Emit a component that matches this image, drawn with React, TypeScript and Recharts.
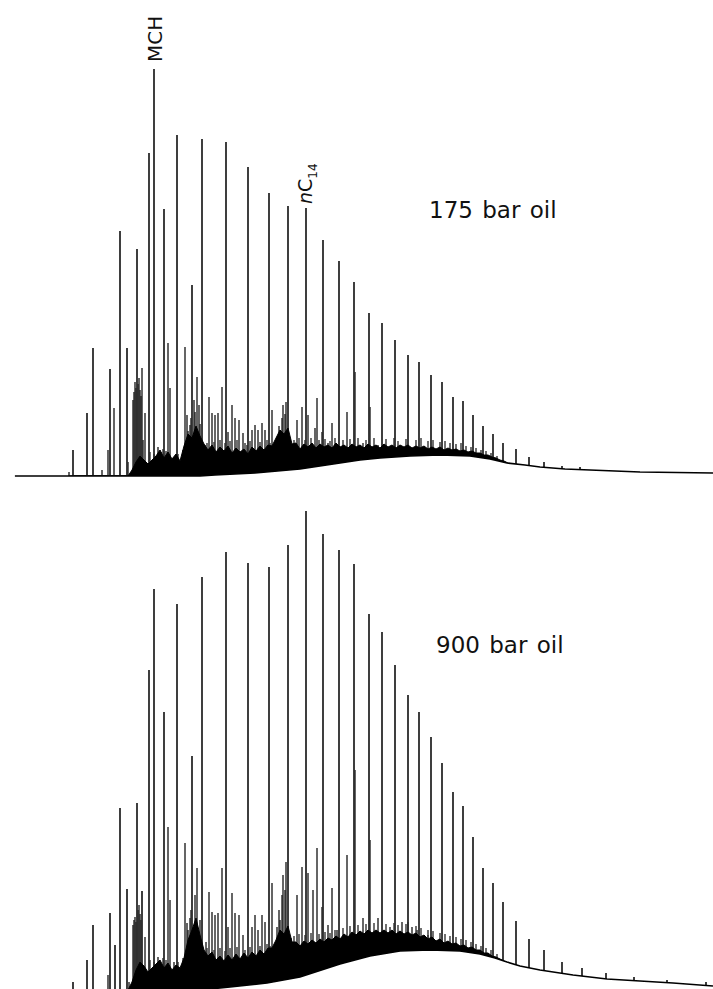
import React from 'react';
import { ComposedChart, Line, Area, XAxis, YAxis, ReferenceDot } from 'recharts';

// ---------- 175 bar oil (upper trace) ----------
const mainRt175 = [73, 87, 93, 110, 120, 127, 137, 149, 154, 164, 177, 192, 202, 226, 248, 269, 288, 306, 323, 339, 354, 369, 382, 395, 408, 419, 431, 442, 453, 463, 473, 483, 493, 503, 516, 529, 544, 562, 580];
const mainH175 = [26, 63, 128, 107, 245, 128, 227, 323, 407, 267, 341, 191, 337, 334, 309, 283, 270, 268, 236, 215, 194, 163, 153, 136, 121, 114, 101, 94, 79, 75, 61, 50, 42, 33, 27, 19, 14, 10, 9];

const minorRt175 = [69, 102, 108, 114, 128, 133, 134, 135, 136, 138, 139, 140, 141, 142, 143, 145, 158, 161, 168, 170, 174, 180, 185, 187, 188, 190, 191, 194, 195, 197, 199, 200, 205, 209, 212, 215, 218, 222, 228, 232, 235, 239, 243, 247, 252, 255, 258, 262, 265, 272, 277, 279, 280, 282, 283, 285, 286, 291, 297, 302, 308, 315, 317, 322, 328, 332, 337, 347, 355, 363, 370, 378, 390, 402, 412, 425, 436, 447, 458, 468, 478, 488];
const minorH175 = [4, 6, 26, 68, 14, 76, 84, 94, 88, 92, 98, 86, 80, 108, 36, 63, 29, 24, 133, 88, 19, 11, 129, 61, 45, 51, 58, 76, 64, 99, 71, 52, 31, 79, 63, 61, 63, 89, 44, 71, 58, 56, 43, 31, 46, 51, 46, 53, 46, 66, 39, 50, 43, 58, 71, 62, 74, 29, 56, 69, 61, 48, 78, 44, 33, 53, 31, 64, 104, 33, 69, 31, 28, 29, 26, 26, 25, 24, 22, 21, 20, 18];

const hairRt = [150, 154, 163, 166, 178, 183, 207, 214, 220, 225, 230, 237, 245, 250, 260, 267, 270, 294, 299, 305, 311, 319, 325, 330, 335, 343, 350, 358, 366, 374, 386, 394, 398, 406, 416, 421, 428, 433, 440, 445, 450, 456, 461, 466, 471, 476, 481, 486, 491, 497];
const hairH175 = [24, 22, 27, 25, 22, 26, 33, 34, 36, 33, 35, 36, 33, 35, 34, 36, 33, 36, 38, 36, 38, 36, 37, 35, 38, 36, 37, 38, 36, 38, 37, 38, 35, 37, 36, 38, 35, 36, 34, 35, 33, 32, 33, 30, 29, 28, 26, 25, 23, 20];

const noiseX = [128, 132, 136, 140, 144, 148, 152, 156, 160, 164, 168, 172, 176, 180, 184, 188, 192, 196, 200, 204, 208, 212, 216, 220, 224, 228, 232, 236, 240, 244, 248, 252, 256, 260, 264, 268, 272, 276, 280, 284, 288, 292, 296, 300, 304, 308, 312, 316, 320, 324, 328, 332, 336, 340, 344, 348, 352, 356, 360, 364, 368, 372, 376, 380, 384, 388, 392, 396, 400, 404, 408, 412, 416, 420, 424, 428, 432, 436, 440, 444, 448, 452, 456, 460, 464, 468, 472, 476, 480, 484, 488, 492, 496, 500, 504, 508, 512];
const noiseTop175 = [0, 6, 14, 20, 16, 12, 16, 20, 26, 18, 24, 17, 22, 15, 30, 42, 38, 50, 40, 32, 26, 31, 24, 29, 25, 30, 23, 28, 24, 27, 22, 29, 25, 30, 26, 31, 30, 38, 46, 42, 48, 32, 33, 27, 32, 29, 33, 28, 32, 29, 31, 28, 33, 29, 31, 28, 32, 29, 31, 28, 32, 29, 31, 28, 32, 29, 31, 28, 31, 29, 31, 28, 30, 28, 30, 27, 29, 27, 29, 26, 28, 26, 27, 25, 26, 24, 25, 23, 23, 21, 21, 19, 18, 16, 15, 13, 12];

const humpX175 = [10, 200, 215, 255, 300, 340, 360, 380, 410, 440, 470, 490, 507, 525, 540, 565, 590, 640, 713];
const humpY175 = [0, 0, 1, 3, 7, 13, 16, 18, 20, 21, 20, 17, 13, 11, 9, 7, 6, 4, 3];

// ---------- 900 bar oil (lower trace) ----------
const mainRt900 = [73, 87, 93, 110, 115, 120, 127, 137, 142, 149, 154, 164, 177, 192, 202, 226, 248, 269, 288, 306, 323, 339, 354, 369, 382, 395, 408, 419, 431, 442, 453, 463, 473, 483, 493, 503, 516, 529, 544, 562, 582, 606, 634, 667, 706];
const mainH900 = [8, 30, 65, 77, 45, 182, 101, 187, 99, 320, 401, 278, 386, 234, 413, 438, 427, 423, 445, 479, 456, 440, 426, 376, 358, 325, 295, 278, 253, 227, 198, 184, 153, 122, 107, 88, 69, 51, 40, 28, 22, 17, 13, 10, 8];

const minorRt900 = [108, 129, 133, 134, 135, 136, 138, 139, 140, 141, 145, 158, 168, 170, 174, 180, 185, 187, 188, 190, 191, 195, 197, 200, 206, 209, 212, 215, 218, 222, 228, 232, 235, 239, 243, 252, 255, 258, 262, 265, 272, 277, 279, 280, 282, 283, 285, 286, 291, 297, 302, 308, 313, 317, 322, 328, 332, 337, 347, 355, 363, 370, 378, 390, 402, 408, 412, 417, 428, 438, 448, 458, 468, 478, 488];
const minorH900 = [15, 8, 65, 70, 73, 68, 80, 85, 76, 70, 53, 33, 163, 90, 28, 7, 147, 67, 60, 72, 80, 95, 122, 70, 48, 98, 78, 75, 77, 122, 63, 97, 77, 75, 55, 63, 75, 60, 75, 68, 107, 63, 80, 70, 95, 115, 100, 128, 52, 95, 123, 117, 100, 142, 83, 65, 102, 60, 135, 220, 72, 150, 72, 63, 68, 68, 63, 60, 55, 50, 48, 45, 42, 40, 37];

const hairH900 = [30, 28, 32, 30, 28, 32, 42, 40, 42, 39, 42, 43, 40, 43, 44, 46, 44, 54, 56, 55, 57, 56, 58, 57, 60, 62, 64, 65, 66, 67, 66, 67, 65, 66, 64, 62, 60, 59, 57, 56, 54, 53, 51, 50, 48, 46, 44, 42, 40, 36];

const noiseTop900 = [0, 8, 20, 28, 24, 18, 22, 26, 30, 22, 27, 20, 25, 22, 32, 50, 60, 72, 55, 40, 34, 38, 30, 34, 29, 35, 30, 36, 31, 37, 32, 38, 34, 40, 36, 42, 42, 50, 60, 56, 64, 48, 48, 44, 49, 46, 50, 47, 51, 48, 52, 50, 54, 51, 56, 53, 58, 55, 59, 56, 60, 57, 60, 57, 60, 57, 60, 56, 59, 56, 58, 55, 57, 53, 55, 51, 53, 49, 51, 47, 49, 46, 47, 44, 45, 42, 43, 40, 40, 37, 37, 34, 33, 31, 29, 27, 25];

const humpX900 = [10, 200, 230, 267, 300, 340, 370, 400, 430, 460, 480, 495, 507, 520, 540, 573, 607, 640, 673, 713];
const humpY900 = [0, 0, 3, 7, 13, 26, 34, 39, 40, 39, 36, 32, 28, 24, 20, 15, 11, 9, 7, 4];

const panelTitles = ['175 bar oil', '900 bar oil'];
const peakNames = ['MCH', 'C', '14'];

// ---------- helpers ----------
const spikes = (rt: number[], h: number[]) =>
  rt.flatMap((x, i) => [{ x, y: 0 }, { x, y: h[i] }, { x: x + 0.01, y: 0 }]);
const pts = (xs: number[], ys: number[]) => xs.map((x, i) => ({ x, y: ys[i] }));

const FONT = '"DejaVu Sans", Verdana, sans-serif';
const W = 713;

type PanelProps = {
  height: number;
  yDomain: [number, number];
  mainRt: number[];
  mainH: number[];
  minorRt: number[];
  minorH: number[];
  hairH: number[];
  noiseTop: number[];
  humpX: number[];
  humpY: number[];
  title: string;
  titleX: number;
  titleY: number;
  annotate?: boolean;
};

function Panel(p: PanelProps) {
  const hump = pts(p.humpX, p.humpY);
  const noise = pts(noiseX, p.noiseTop);
  const margin = { top: 0, right: 0, bottom: 0, left: 0 };
  return (
    <div style={{ position: 'relative', width: W, height: p.height }}>
      {/* layer 1: the resolved peaks */}
      <div style={{ position: 'absolute', left: 0, top: 0 }}>
        <ComposedChart width={W} height={p.height} margin={margin}>
          <XAxis type="number" dataKey="x" domain={[0, W]} hide allowDataOverflow />
          <YAxis type="number" domain={p.yDomain} hide allowDataOverflow />
          <Line data={spikes(hairRt, p.hairH)} dataKey="y" type="linear" stroke="#111" strokeWidth={1.2} dot={false} activeDot={false} isAnimationActive={false} />
          <Line data={spikes(p.minorRt, p.minorH)} dataKey="y" type="linear" stroke="#333" strokeWidth={1.5} dot={false} activeDot={false} isAnimationActive={false} />
          <Line data={spikes(p.mainRt, p.mainH)} dataKey="y" type="linear" stroke="#2b2b2b" strokeWidth={1.8} dot={false} activeDot={false} isAnimationActive={false} />
        </ComposedChart>
      </div>
      {/* layer 2: unresolved hump, baseline and labels */}
      <div style={{ position: 'absolute', left: 0, top: 0 }}>
        <ComposedChart width={W} height={p.height} margin={margin}>
          <XAxis type="number" dataKey="x" domain={[0, W]} hide allowDataOverflow />
          <YAxis type="number" domain={p.yDomain} hide allowDataOverflow />
          <Area data={noise} dataKey="y" type="linear" fill="#000" fillOpacity={1} stroke="#000" strokeWidth={1} isAnimationActive={false} />
          <Area data={hump} dataKey="y" type="linear" baseValue={p.yDomain[0]} fill="#fff" fillOpacity={1} stroke="none" isAnimationActive={false} />
          <Line data={hump} dataKey="y" type="linear" stroke="#000" strokeWidth={1.6} dot={false} activeDot={false} isAnimationActive={false} />
          <ReferenceDot
            x={p.titleX}
            y={p.titleY}
            r={0}
            ifOverflow="visible"
            shape={(s: any) => (
              <text x={s.cx} y={s.cy} fontFamily={FONT} fontSize={23} wordSpacing={2} fill="#111">
                {p.title}
              </text>
            )}
          />
          {p.annotate && (
            <ReferenceDot
              x={p.mainRt[8]}
              y={p.mainH[8]}
              r={0}
              ifOverflow="visible"
              shape={(s: any) => (
                <text x={s.cx + 8} y={s.cy - 7} transform={`rotate(-90 ${s.cx + 8} ${s.cy - 7})`} fontFamily={FONT} fontSize={20} fill="#111">
                  {peakNames[0]}
                </text>
              )}
            />
          )}
          {p.annotate && (
            <ReferenceDot
              x={p.mainRt[17]}
              y={p.mainH[17]}
              r={0}
              ifOverflow="visible"
              shape={(s: any) => (
                <text x={s.cx + 6} y={s.cy - 4} transform={`rotate(-90 ${s.cx + 6} ${s.cy - 4})`} fontFamily={FONT} fontSize={19} fill="#111">
                  <tspan fontStyle="italic">n</tspan>
                  <tspan>{peakNames[1]}</tspan>
                  <tspan fontSize={12} dy={5}>{peakNames[2]}</tspan>
                </text>
              )}
            />
          )}
        </ComposedChart>
      </div>
    </div>
  );
}

export default function App() {
  return (
    <div style={{ position: 'absolute', left: 0, top: 0, width: W, height: 989, overflow: 'hidden', background: '#fff' }}>
      <div style={{ position: 'absolute', left: 0, top: 0 }}>
        <Panel
          height={480}
          yDomain={[-4, 476]}
          mainRt={mainRt175}
          mainH={mainH175}
          minorRt={minorRt175}
          minorH={minorH175}
          hairH={hairH175}
          noiseTop={noiseTop175}
          humpX={humpX175}
          humpY={humpY175}
          title={panelTitles[0]}
          titleX={429}
          titleY={258}
          annotate
        />
      </div>
      <div style={{ position: 'absolute', left: 0, top: 480 }}>
        <Panel
          height={509}
          yDomain={[1, 510]}
          mainRt={mainRt900}
          mainH={mainH900}
          minorRt={minorRt900}
          minorH={minorH900}
          hairH={hairH900}
          noiseTop={noiseTop900}
          humpX={humpX900}
          humpY={humpY900}
          title={panelTitles[1]}
          titleX={436}
          titleY={337}
        />
      </div>
    </div>
  );
}
